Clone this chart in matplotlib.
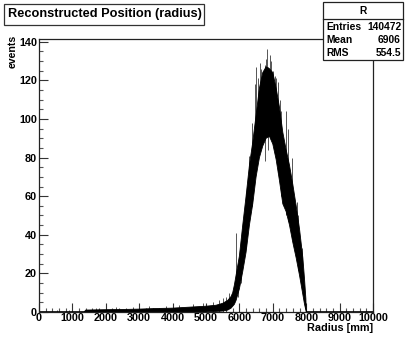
import matplotlib
matplotlib.use("Agg")
import matplotlib.pyplot as plt
from matplotlib.patches import Rectangle
from matplotlib.ticker import MultipleLocator

# ---- data ----
radius_mm = [0, 1350, 1400, 2000, 2500, 3000, 3500, 4000, 4500, 5000, 5300, 5500,
             5650, 5750, 5800, 5850, 5900, 6000, 6100, 6200, 6300, 6400, 6500, 6600,
             6700, 6800, 6900, 7000, 7100, 7200, 7300, 7400, 7500, 7600, 7700, 7800,
             7900, 7950, 7990, 8000, 8010, 10000]
upper_events = [0, 0, 1, 1.2, 1.3, 1.5, 1.8, 2, 2.5, 3, 3.5, 4.5,
                6, 8, 10, 14, 19, 29, 45, 60, 76, 88, 102, 116,
                124, 127, 126, 124, 116, 106, 93, 84, 76, 66, 55, 43,
                28, 17, 7, 2, 0, 0]
lower_events = [0, 0, 0, 0, 0, 0, 0, 0, 0, 0, 0.3, 0.5,
                1, 2, 3, 4, 6, 12, 21, 31, 45, 56, 70, 80,
                86, 90, 91, 87, 79, 68, 56, 52, 45, 36, 28, 19,
                9, 4, 1, 0, 0, 0]

spike_r = [5500, 5600, 5700, 5910, 5960, 6050, 6200, 6300, 6380, 6480, 6510, 6560,
           6610, 6660, 6710, 6760, 6800, 6835, 6870, 6910, 6960, 7010, 7060, 7110,
           7160, 7210, 7260, 7410, 7460, 7560, 7710, 7760, 7860,
           200, 550, 900, 1200, 1700, 2300, 2800, 3300, 3800, 4200, 4600, 4900, 5200, 5400]
spike_lo = [0, 1, 2, 8, 8, 15, 33, 50, 55, 80, 85, 88,
            90, 92, 95, 78, 95, 95, 84, 96, 92, 90, 85, 80,
            72, 70, 60, 50, 47, 38, 28, 22, 12,
            0, 0, 0, 0, 0, 0, 0, 0, 0, 0, 0, 0, 0, 0]
spike_hi = [7, 8, 10, 41, 25, 32, 62, 81, 98, 118, 127, 121,
            129, 126, 123, 128, 131, 136, 127, 133, 130, 125, 122, 121,
            119, 110, 104, 104, 95, 80, 57, 50, 33,
            1, 1, 1, 1, 2, 2.5, 2.5, 3, 3, 3.5, 4, 4.5, 5, 6]

x_ticks = [0, 1000, 2000, 3000, 4000, 5000, 6000, 7000, 8000, 9000, 10000]
y_ticks = [0, 20, 40, 60, 80, 100, 120, 140]

title = "Reconstructed Position (radius)"
stats_name = "R"
stats_rows = [("Entries", "140472"), ("Mean", "6906"), ("RMS", "554.5")]

# ---- figure ----
W, H = 407, 339
plt.rcParams['font.family'] = ['Liberation Sans', 'DejaVu Sans']
plt.rcParams['font.weight'] = 'bold'
fig = plt.figure(figsize=(W / 100, H / 100), dpi=100)
fig.patch.set_facecolor('white')

def fx(px):
    return px / W

def fy(py):
    return 1 - py / H

ax_l, ax_r, ax_t, ax_b = 39, 373, 39, 312
ax = fig.add_axes([fx(ax_l), fy(ax_b), fx(ax_r) - fx(ax_l), fy(ax_t) - fy(ax_b)])
ax.set_xlim(0, 10000)
ax.set_ylim(0, 141.4)

# spikes drawn under the solid band so only their protruding parts show
ax.vlines(spike_r, spike_lo, spike_hi, colors='#555555', lw=0.7, zorder=1)
poly_x = list(radius_mm) + list(radius_mm[::-1])
poly_y = list(upper_events) + list(lower_events[::-1])
ax.fill(poly_x, poly_y, facecolor='black', edgecolor='black', lw=0.6, zorder=2)

for s in ax.spines.values():
    s.set_color('#222222')
    s.set_linewidth(0.9)
    s.set_zorder(4)

ax.set_xticks(x_ticks)
ax.set_yticks(y_ticks)
ax.set_xticklabels([str(v) for v in x_ticks])
ax.set_yticklabels([str(v) for v in y_ticks])
ax.xaxis.set_minor_locator(MultipleLocator(200))
ax.yaxis.set_minor_locator(MultipleLocator(5))
ax.tick_params(axis='both', which='major', direction='in', length=6.5, width=0.8,
               color='#333333', labelsize=7.8)
ax.tick_params(axis='x', which='major', pad=0.8)
ax.tick_params(axis='y', which='major', pad=1.5)
ax.tick_params(axis='both', which='minor', direction='in', length=3.2, width=0.8,
               color='#555555')
ax.tick_params(top=False, right=False, which='both')
for lab in ax.get_xticklabels() + ax.get_yticklabels():
    lab.set_fontweight('bold')

# axis titles
fig.text(fx(373), fy(331), "Radius [mm]", ha='right', va='baseline',
         fontsize=7.8, fontweight='bold')
fig.text(fx(13), fy(35), "events", ha='center', va='top', rotation=90,
         fontsize=7.6, fontweight='bold')

# title box
fig.add_artist(Rectangle((fx(3.5), fy(25)), fx(204) - fx(3.5), fy(4) - fy(25),
                         transform=fig.transFigure, facecolor='white',
                         edgecolor='#333333', lw=0.9))
fig.text(fx(105), fy(14.5), title, ha='center', va='center', fontsize=9.2,
         fontweight='bold')

# stats box
bx0, bx1, by0, by1 = 323, 403, 2, 60
fig.add_artist(Rectangle((fx(bx0), fy(by1)), fx(bx1) - fx(bx0), fy(by0) - fy(by1),
                         transform=fig.transFigure, facecolor='white',
                         edgecolor='#222222', lw=0.9, zorder=5))
fig.add_artist(plt.Line2D([fx(bx0), fx(bx1)], [fy(19), fy(19)],
                          transform=fig.transFigure, color='#222222', lw=0.9, zorder=6))
fig.text(fx((bx0 + bx1) / 2), fy(10.5), stats_name, ha='center', va='center',
         fontsize=7.4, fontweight='bold', zorder=7)
for i, (k, v) in enumerate(stats_rows):
    yy = fy(26.5 + 13.5 * i)
    fig.text(fx(bx0 + 3), yy, k, ha='left', va='center', fontsize=7.4,
             fontweight='bold', zorder=7)
    fig.text(fx(bx1 - 2), yy, v, ha='right', va='center', fontsize=7.4,
             fontweight='bold', zorder=7)

fig.savefig("out.png", dpi=100, facecolor='white')
